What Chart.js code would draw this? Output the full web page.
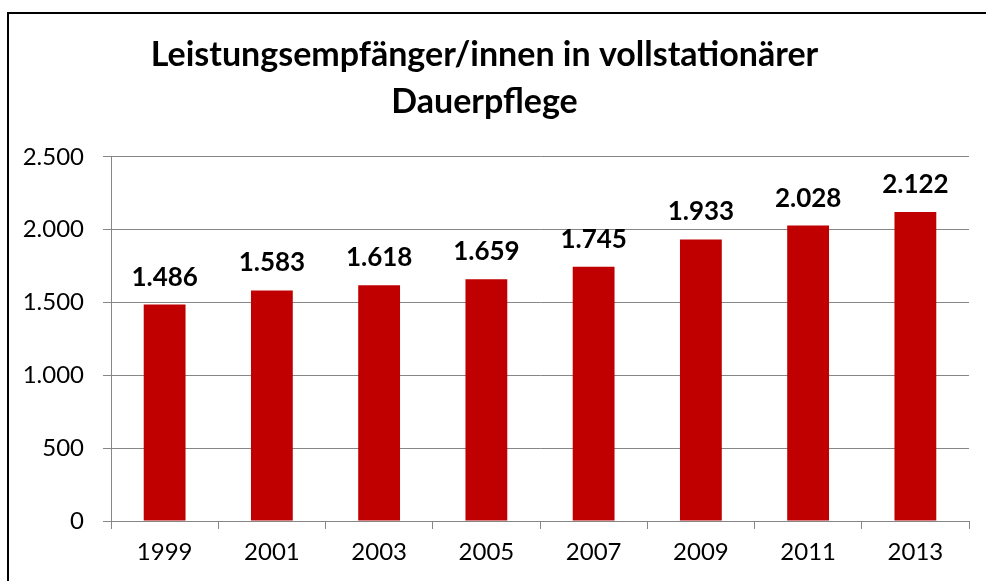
<!DOCTYPE html>
<html>
<head>
<meta charset="utf-8">
<script src="https://cdn.jsdelivr.net/npm/chart.js@4"></script>
<style>
  body { margin: 0; background: #fff; }
  #wrap { position: relative; width: 986px; height: 581px; overflow: hidden; }
  #frame { position: absolute; left: 7px; top: 12px; width: 1100px; height: 700px;
           border-left: 2px solid #000; border-top: 2px solid #000; pointer-events: none; }
  canvas { position: absolute; left: 0; top: 0; }
</style>
</head>
<body>
<div id="wrap">
  <canvas id="chart" width="986" height="581"></canvas>
  <div id="frame"></div>
</div>
<script>
var years = ["1999", "2001", "2003", "2005", "2007", "2009", "2011", "2013"];
var recipients = [1486, 1583, 1618, 1659, 1745, 1933, 2028, 2122];
var titleLines = ["Leistungsempfänger/innen in vollstationärer", "Dauerpflege"];

function fmt(v) {
    return String(v).replace(/\B(?=(\d{3})+(?!\d))/g, '.');
}

// draws the values above the bars
var valueLabels = {
    id: 'valueLabels',
    afterDatasetsDraw: function (chart) {
        var ctx = chart.ctx;
        var meta = chart.getDatasetMeta(0);
        ctx.save();
        ctx.font = 'bold 26px Lato';
        ctx.fillStyle = '#000';
        ctx.textAlign = 'center';
        ctx.textBaseline = 'alphabetic';
        meta.data.forEach(function (bar, i) {
            ctx.fillText(fmt(chart.data.datasets[0].data[i]), bar.x, bar.y - 19);
        });
        ctx.restore();
    }
};

var ctx = document.getElementById('chart').getContext('2d');

var chart = new Chart(ctx, {
    type: 'bar',
    data: {
        labels: years,
        datasets: [{
            data: recipients,
            backgroundColor: '#C00000',
            borderWidth: 0,
            barPercentage: 0.39,
            categoryPercentage: 1
        }]
    },
    options: {
        responsive: false,
        animation: false,
        layout: { padding: { left: 0, right: 17, top: 0, bottom: 0 } },
        plugins: {
            legend: { display: false },
            tooltip: { enabled: false },
            title: {
                display: true,
                text: titleLines,
                color: '#000',
                font: { family: 'Lato', size: 34, weight: 'bold', lineHeight: 1.38 },
                padding: { top: 32, bottom: 31 }
            }
        },
        scales: {
            x: {
                grid: { offset: true, drawOnChartArea: false, drawTicks: true, tickLength: 8, color: '#868686' },
                border: { color: '#868686', width: 1 },
                ticks: { color: '#000', font: { family: 'Lato', size: 24 }, padding: 9 },
                afterFit: function (scale) { scale.height = 60; }
            },
            y: {
                min: 0,
                max: 2500,
                ticks: {
                    stepSize: 500,
                    color: '#000',
                    font: { family: 'Lato', size: 24 },
                    padding: 19,
                    callback: function (v) { return fmt(v); }
                },
                grid: { color: '#868686', tickLength: 8 },
                border: { color: '#868686', width: 1 },
                afterFit: function (scale) { scale.width = 111; }
            }
        }
    },
    plugins: [valueLabels]
});
</script>
</body>
</html>
